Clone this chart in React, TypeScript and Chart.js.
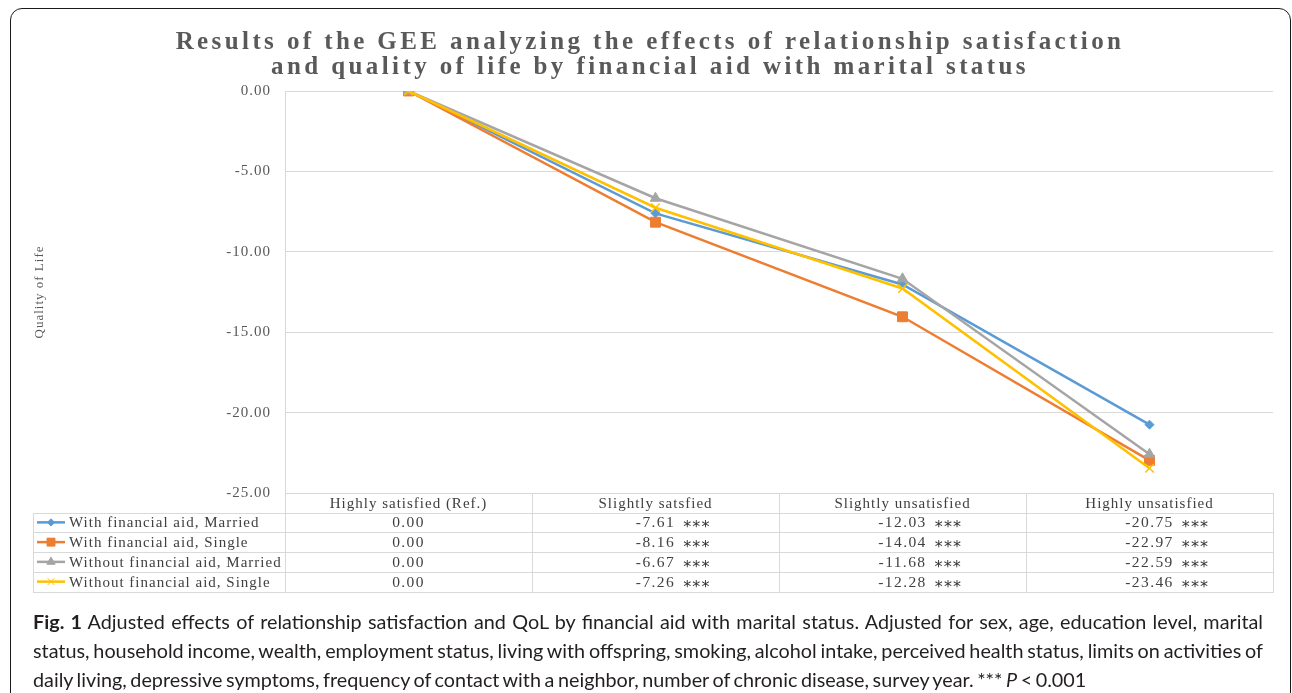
import React, { useEffect, useRef } from "react";
import { Chart, registerables } from "chart.js";
import { drawPoint } from "chart.js/helpers";

Chart.register(...registerables);

const titleLines = [
  "Results of the GEE analyzing the effects of relationship satisfaction",
  "and quality of life by financial aid with marital status",
];
const yAxisTitle = "Quality of Life";
const categories = ["Highly satisfied (Ref.)", "Slightly satsfied", "Slightly unsatisfied", "Highly unsatisfied"];
const seriesNames = [
  "With financial aid, Married",
  "With financial aid, Single",
  "Without financial aid, Married",
  "Without financial aid, Single",
];
const marriedWithAid = [0, -7.61, -12.03, -20.75];
const singleWithAid = [0, -8.16, -14.04, -22.97];
const marriedWithoutAid = [0, -6.67, -11.68, -22.59];
const singleWithoutAid = [0, -7.26, -12.28, -23.46];
const significance = ["", "***", "***", "***"];
const seriesColors = ["#5B9BD5", "#ED7D31", "#A5A5A5", "#FFC000"];
const pointStyles = ["rectRot", "rect", "triangle", "crossRot"];
const pointRadii = [4.5, 7, 6, 6];
const yMin = -25;
const yMax = 0;
const yStep = 5;

const seriesValues = [marriedWithAid, singleWithAid, marriedWithoutAid, singleWithoutAid];

const SERIF = '"Liberation Serif", "Times New Roman", serif';
const GRID = "#d9d9d9";
const TEXT = "#404040";

const decorPlugin = {
  id: "figDecor",
  beforeDraw(chart: any) {
    const ctx = chart.ctx;
    ctx.save();
    ctx.font = `bold 25px ${SERIF}`;
    (ctx as any).letterSpacing = "3.4px";
    ctx.fillStyle = "#595959";
    ctx.textAlign = "center";
    ctx.textBaseline = "alphabetic";
    ctx.fillText(titleLines[0], 650, 48.5);
    ctx.fillText(titleLines[1], 650, 74);
    ctx.restore();
    (ctx as any).letterSpacing = "1px";
  },
  afterDraw(chart: any) {
    const { ctx, chartArea } = chart;
    const x = chart.scales.x;
    const left = chartArea.left;
    const right = chartArea.right;
    const top = chartArea.bottom;
    const headerH = 19.5;
    const rowH = 19.75;
    const legendLeft = 33;
    const n = categories.length;
    const colW = (right - left) / n;
    const bottom = top + headerH + rowH * seriesNames.length;

    ctx.save();
    (ctx as any).letterSpacing = "1px";
    ctx.strokeStyle = GRID;
    ctx.lineWidth = 1;
    ctx.beginPath();
    for (let k = 0; k <= seriesNames.length; k++) {
      const yy = Math.round(top + headerH + k * rowH) + 0.5;
      ctx.moveTo(legendLeft, yy);
      ctx.lineTo(right, yy);
    }
    ctx.moveTo(legendLeft + 0.5, Math.round(top + headerH));
    ctx.lineTo(legendLeft + 0.5, Math.round(bottom) + 1);
    for (let i = 0; i <= n; i++) {
      const xx = Math.round(left + i * colW) + 0.5;
      ctx.moveTo(xx, top);
      ctx.lineTo(xx, Math.round(bottom) + 1);
    }
    ctx.stroke();

    seriesNames.forEach((name, r) => {
      const cy = top + headerH + rowH * (r + 0.5);
      ctx.strokeStyle = seriesColors[r];
      ctx.fillStyle = seriesColors[r];
      ctx.lineWidth = 2.5;
      ctx.beginPath();
      ctx.moveTo(37, cy);
      ctx.lineTo(65, cy);
      ctx.stroke();
      ctx.lineWidth = 1;
      drawPoint(ctx, { pointStyle: pointStyles[r], radius: pointRadii[r] * 0.8, rotation: 0, borderWidth: 1.5 } as any, 51, cy);
      ctx.fillStyle = TEXT;
      ctx.font = `15px ${SERIF}`;
      ctx.textAlign = "left";
      ctx.textBaseline = "middle";
      ctx.fillText(name, 69, cy + 1);
      const vals = seriesValues[r];
      vals.forEach((v, i) => {
        const cx = x.getPixelForValue(i);
        const txt = v.toFixed(2);
        ctx.font = `15.5px ${SERIF}`;
        (ctx as any).letterSpacing = "1.4px";
        ctx.textAlign = "center";
        ctx.textBaseline = "middle";
        ctx.fillStyle = TEXT;
        ctx.fillText(txt, cx, cy + 1);
        if (significance[i]) {
          const w = ctx.measureText(txt).width;
          ctx.textAlign = "left";
          ctx.textBaseline = "alphabetic";
          ctx.fillStyle = "#333333";
          ctx.font = `16px "DejaVu Sans", sans-serif`;
          (ctx as any).letterSpacing = "1.2px";
          ctx.fillText(significance[i], cx + w / 2 + 8, cy + 10);
        }
        (ctx as any).letterSpacing = "1px";
      });
    });
    ctx.restore();
    (ctx as any).letterSpacing = "0px";
  },
};

export default function App() {
  const ref = useRef<HTMLCanvasElement | null>(null);

  useEffect(() => {
    if (!ref.current) return;
    const chart = new Chart(ref.current, {
      type: "line",
      data: {
        labels: categories,
        datasets: seriesNames.map((name, i) => ({
          label: name,
          data: seriesValues[i],
          borderColor: seriesColors[i],
          backgroundColor: seriesColors[i],
          borderWidth: 2.5,
          pointStyle: pointStyles[i] as any,
          pointRadius: pointRadii[i],
          pointBorderWidth: i === 3 ? 1.5 : 1,
          pointBackgroundColor: seriesColors[i],
          pointBorderColor: seriesColors[i],
          tension: 0,
          order: 3 - i,
        })),
      },
      options: {
        animation: false,
        responsive: false,
        maintainAspectRatio: false,
        layout: { padding: { left: 0, right: 19, top: 91, bottom: 0 } },
        plugins: {
          legend: { display: false },
          title: { display: false },
          tooltip: { enabled: false },
        },
        scales: {
          x: {
            type: "category",
            offset: true,
            grid: { display: false, drawTicks: false },
            border: { display: false },
            ticks: {
              font: { family: SERIF, size: 15 },
              color: TEXT,
              padding: 2,
              maxRotation: 0,
              autoSkip: false,
            },
            afterFit: (s: any) => {
              s.height = 107;
            },
          },
          y: {
            min: yMin,
            max: yMax,
            ticks: {
              stepSize: yStep,
              callback: (v: any) => Number(v).toFixed(2),
              font: { family: SERIF, size: 15 },
              color: "#595959",
              padding: 14,
            },
            grid: { color: GRID, drawTicks: false },
            border: { display: true, color: GRID },
            title: {
              display: true,
              text: yAxisTitle,
              font: { family: SERIF, size: 13 },
              color: "#595959",
              padding: { top: 32, bottom: 0 },
            },
            afterFit: (s: any) => {
              s.width = 285;
            },
          },
        },
      },
      plugins: [decorPlugin],
    });
    return () => chart.destroy();
  }, []);

  const capFont: React.CSSProperties = {
    fontFamily: 'Lato, "Open Sans", sans-serif',
    fontSize: 19.8,
    lineHeight: "29px",
    wordSpacing: "-1.5px",
    color: "#231f20",
  };

  return (
    <div style={{ position: "fixed", left: 0, top: 0, width: 1292, height: 693, overflow: "hidden", background: "#fff" }}>
      <canvas ref={ref} width={1292} height={600} style={{ position: "absolute", left: 0, top: 0, width: 1292, height: 600 }} />
      <div
        style={{
          position: "absolute",
          left: 10,
          top: 8,
          width: 1281,
          height: 720,
          border: "1.5px solid #1a1a1a",
          borderRadius: 12,
          boxSizing: "border-box",
          pointerEvents: "none",
        }}
      />
      <div style={{ position: "absolute", left: 33, top: 607, width: 1230, ...capFont }}>
        <div style={{ textAlign: "justify", textAlignLast: "justify" }}>
          <b>Fig. 1</b> Adjusted effects of relationship satisfaction and QoL by financial aid with marital status. Adjusted for sex, age, education level, marital
        </div>
        <div style={{ textAlign: "justify", textAlignLast: "justify" }}>
          status, household income, wealth, employment status, living with offspring, smoking, alcohol intake, perceived health status, limits on activities of
        </div>
        <div>
          daily living, depressive symptoms, frequency of contact with a neighbor, number of chronic disease, survey year. *** <i>P</i> &lt; 0.001
        </div>
      </div>
    </div>
  );
}
